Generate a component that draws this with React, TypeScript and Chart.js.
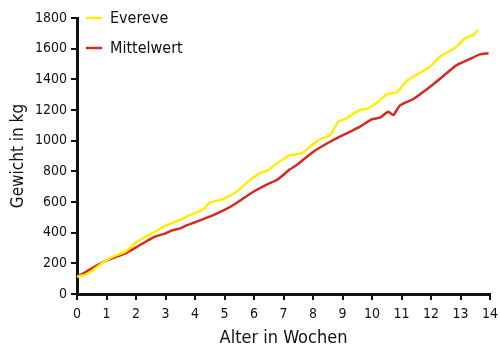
import React, { useEffect, useRef } from "react";
import { Chart, registerables } from "chart.js";

Chart.register(...registerables);

const evereveWeeks = [0, 0.27, 0.5, 0.95, 1.3, 1.63, 2.0, 2.3, 2.64, 3.0, 3.2, 3.49, 3.66, 4.0, 4.3, 4.4, 4.5, 4.85, 5.0, 5.41, 5.86, 6.2, 6.5, 6.77, 7.0, 7.22, 7.62, 7.9, 8.18, 8.58, 8.86, 9.14, 9.4, 9.59, 9.87, 10.21, 10.5, 10.84, 11.0, 11.18, 11.46, 11.7, 11.97, 12.3, 12.7, 12.9, 13.15, 13.43, 13.6];
const evereveKg = [113, 124, 150, 215, 250, 276, 335, 370, 406, 445, 461, 483, 500, 528, 555, 575, 595, 613, 624, 667, 743, 787, 810, 852, 880, 905, 917, 960, 1004, 1037, 1124, 1146, 1180, 1200, 1211, 1254, 1302, 1315, 1350, 1389, 1424, 1450, 1483, 1548, 1591, 1620, 1667, 1689, 1722];

const mittelWeeks = [0, 0.27, 0.5, 0.95, 1.3, 1.63, 2.0, 2.64, 3.0, 3.2, 3.49, 3.66, 4.0, 4.62, 5.0, 5.3, 5.98, 6.5, 6.77, 7.22, 7.45, 8.01, 8.58, 9.14, 9.59, 9.99, 10.27, 10.55, 10.72, 10.95, 11.4, 11.97, 12.53, 12.87, 13.32, 13.66, 13.95];
const mittelKg = [113, 140, 168, 215, 240, 265, 304, 374, 395, 413, 428, 443, 468, 515, 548, 580, 667, 720, 743, 813, 841, 928, 993, 1048, 1091, 1139, 1150, 1189, 1167, 1230, 1272, 1352, 1440, 1493, 1533, 1563, 1570];

const seriesNames = ["Evereve", "Mittelwert"];
const seriesColors = ["#FFEE00", "#D42A22"];
const xTitle = "Alter in Wochen";
const yTitle = "Gewicht in kg";

const FONT = "'DejaVu Sans Condensed', 'Liberation Sans Narrow', 'Liberation Sans', sans-serif";

const legendPlugin = {
  id: "insideLegend",
  afterDatasetsDraw(chart: any) {
    const ctx = chart.ctx;
    const area = chart.chartArea;
    ctx.save();
    chart.data.datasets.forEach((ds: any, i: number) => {
      const y = area.top + i * 30;
      ctx.strokeStyle = ds.borderColor;
      ctx.lineWidth = 2.5;
      ctx.beginPath();
      ctx.moveTo(area.left + 9, y);
      ctx.lineTo(area.left + 25, y);
      ctx.stroke();
      ctx.fillStyle = "#111";
      ctx.font = `16px ${FONT}`;
      ctx.textBaseline = "middle";
      ctx.textAlign = "left";
      ctx.fillText(ds.label, area.left + 33, y + 1);
    });
    ctx.restore();
  },
};

export default function App() {
  const ref = useRef<HTMLCanvasElement>(null);
  useEffect(() => {
    if (!ref.current) return;
    const toPts = (xs: number[], ys: number[]) => xs.map((x, i) => ({ x, y: ys[i] }));
    const chart = new Chart(ref.current, {
      type: "line",
      data: {
        datasets: [
          {
            label: seriesNames[0],
            data: toPts(evereveWeeks, evereveKg),
            borderColor: seriesColors[0],
            backgroundColor: seriesColors[0],
            borderWidth: 2.5,
            pointRadius: 0,
            tension: 0.2,
          },
          {
            label: seriesNames[1],
            data: toPts(mittelWeeks, mittelKg),
            borderColor: seriesColors[1],
            backgroundColor: seriesColors[1],
            borderWidth: 2.5,
            pointRadius: 0,
            tension: 0.2,
          },
        ],
      },
      options: {
        animation: false,
        responsive: false,
        layout: { padding: { top: 18, right: 10, left: 0, bottom: 0 } },
        plugins: { legend: { display: false }, tooltip: { enabled: false } },
        scales: {
          x: {
            type: "linear",
            min: 0,
            max: 14,
            afterFit: (s: any) => { s.height = 61; s.paddingRight = 0; s.paddingLeft = 0; },
            border: { color: "#111", width: 3 },
            grid: { drawOnChartArea: false, drawTicks: true, tickLength: 6, color: "#111", lineWidth: 2 },
            ticks: { stepSize: 1, color: "#111", padding: 6, font: { family: FONT, size: 14 }, maxRotation: 0, callback: (v: any) => String(v) },
            title: { display: true, text: xTitle, color: "#111", font: { family: FONT, size: 18 }, padding: { top: 0, bottom: 6 } },
          },
          y: {
            min: 0,
            max: 1800,
            afterFit: (s: any) => { s.width = 77; },
            border: { color: "#111", width: 3 },
            grid: { drawOnChartArea: false, drawTicks: true, tickLength: 6, color: "#111", lineWidth: 2 },
            ticks: { stepSize: 200, color: "#111", padding: 4, font: { family: FONT, size: 14 }, callback: (v: any) => String(v) },
            title: { display: true, text: yTitle, color: "#111", font: { family: FONT, size: 17 }, padding: { top: 8, bottom: 0 } },
          },
        },
      },
      plugins: [legendPlugin],
    });
    return () => chart.destroy();
  }, []);
  return (
    <div style={{ position: "fixed", left: 0, top: 0, width: 500, height: 355, background: "#fff" }}>
      <canvas ref={ref} width={500} height={355} />
    </div>
  );
}
